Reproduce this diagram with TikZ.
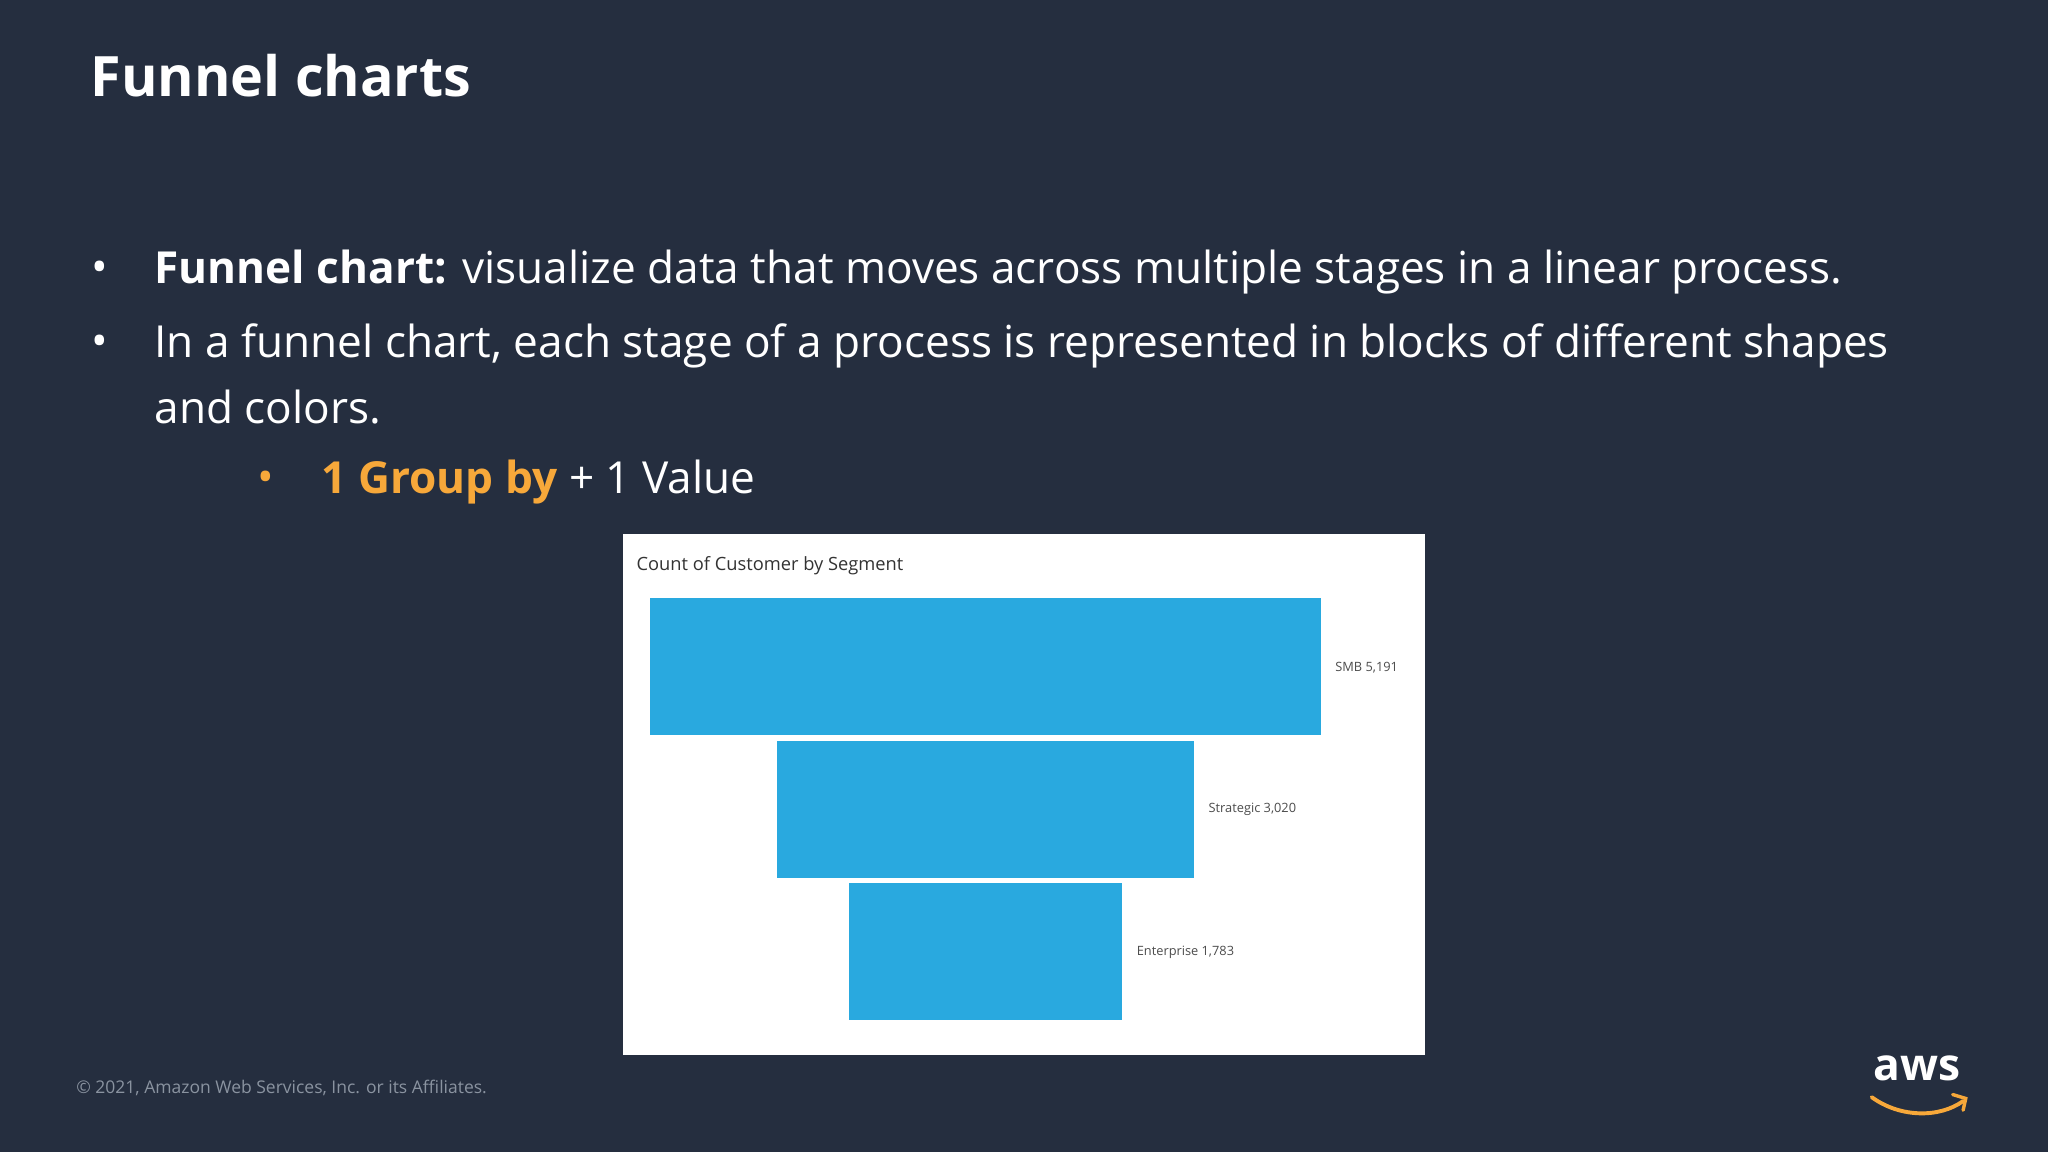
\documentclass[tikz,border=0pt]{standalone}
\usepackage{fontspec}
\setmainfont{Open Sans}
\definecolor{bg}{HTML}{252E3F}
\definecolor{awsor}{HTML}{F7A83A}
\definecolor{bar}{HTML}{29A9DF}
\definecolor{foot}{HTML}{8A93A0}
\begin{document}
\begin{tikzpicture}[x=0.5pt,y=-0.5pt,
  txt/.style={anchor=west,inner sep=0,text=white,font=\fontsize{16.9}{20}\selectfont},
  lab/.style={anchor=west,inner sep=0,text=black!70,font=\fontsize{4.9}{5}\selectfont}]
\fill[bg] (0,0) rectangle (1568,882);
\useasboundingbox (0,0) rectangle (1568,882);
\node[txt,font=\bfseries\fontsize{21.3}{26}\selectfont] (title) at (69,58) {Funnel charts};
\node[txt] (b1) at (70,208) {•};
\node[txt] (t1) at (118,208) {\textbf{Funnel chart:} visualize data that moves across multiple stages in a linear process.};
\node[txt] (b2) at (70,265) {•};
\node[txt] (t2) at (118,265) {In a funnel chart, each stage of a process is represented in blocks of different shapes};
\node[txt] (t3) at (118,312) {and colors.};
\node[txt,text=awsor] (b3) at (197,369) {•};
\node[txt] (t4) at (246,369) {\textcolor{awsor}{\textbf{1 Group by}} + 1 Value};
\fill[white] (477,409) rectangle (1091,808);
\node[anchor=west,inner sep=0,text=black!80,font=\fontsize{7}{8}\selectfont] (ct) at (487,433) {Count of Customer by Segment};
\fill[bar] (498,458) rectangle (1011,563);
\fill[bar] (595,567) rectangle (914,672);
\fill[bar] (650,676) rectangle (859,781);
\node[lab] (l1) at (1022,511) {SMB 5,191};
\node[lab] (l2) at (925,620) {Strategic 3,020};
\node[lab] (l3) at (870,729) {Enterprise 1,783};
\node[anchor=west,inner sep=0,text=foot,font=\fontsize{6.7}{8}\selectfont] (ft) at (58,833) {© 2021, Amazon Web Services, Inc. or its Affiliates.};
\node[inner sep=0,text=white,font=\bfseries\fontsize{17}{20}\selectfont] (aws) at (1468,818) {aws};
\draw[awsor,line width=1.5pt,line cap=round] (1433,840) .. controls (1455,856) and (1485,856) .. (1503,843);
\draw[awsor,line width=1.3pt,line cap=round] (1495,838) -- (1505,841) -- (1503,850);
\end{tikzpicture}
\end{document}
